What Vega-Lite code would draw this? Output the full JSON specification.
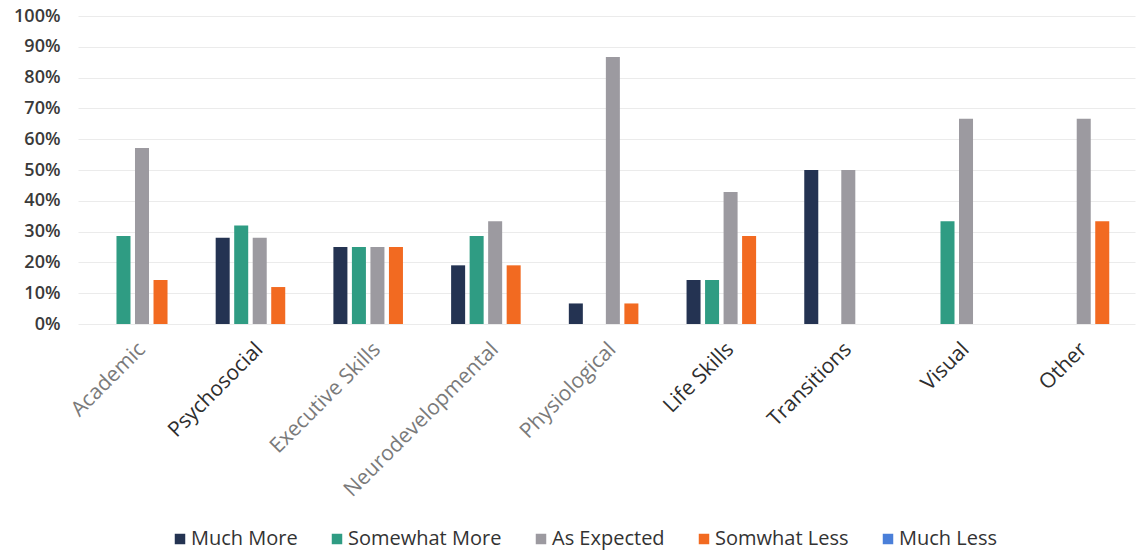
{
  "$schema": "https://vega.github.io/schema/vega-lite/v6.json",
  "width": 1057,
  "height": 308,
  "autosize": {"type": "none"},
  "padding": {"left": 78, "top": 16, "right": 2, "bottom": 227},
  "background": "white",
  "config": {
    "view": {"stroke": null},
    "font": "Open Sans"
  },
  "data": {
    "values": [
      {"area": "Academic", "response": "Somewhat More", "share": 0.2857},
      {"area": "Academic", "response": "As Expected", "share": 0.5714},
      {"area": "Academic", "response": "Somwhat Less", "share": 0.1429},
      {"area": "Psychosocial", "response": "Much More", "share": 0.28},
      {"area": "Psychosocial", "response": "Somewhat More", "share": 0.32},
      {"area": "Psychosocial", "response": "As Expected", "share": 0.28},
      {"area": "Psychosocial", "response": "Somwhat Less", "share": 0.12},
      {"area": "Executive Skills", "response": "Much More", "share": 0.25},
      {"area": "Executive Skills", "response": "Somewhat More", "share": 0.25},
      {"area": "Executive Skills", "response": "As Expected", "share": 0.25},
      {"area": "Executive Skills", "response": "Somwhat Less", "share": 0.25},
      {"area": "Neurodevelopmental", "response": "Much More", "share": 0.1905},
      {"area": "Neurodevelopmental", "response": "Somewhat More", "share": 0.2857},
      {"area": "Neurodevelopmental", "response": "As Expected", "share": 0.3333},
      {"area": "Neurodevelopmental", "response": "Somwhat Less", "share": 0.1905},
      {"area": "Physiological", "response": "Much More", "share": 0.0667},
      {"area": "Physiological", "response": "As Expected", "share": 0.8667},
      {"area": "Physiological", "response": "Somwhat Less", "share": 0.0667},
      {"area": "Life Skills", "response": "Much More", "share": 0.1429},
      {"area": "Life Skills", "response": "Somewhat More", "share": 0.1429},
      {"area": "Life Skills", "response": "As Expected", "share": 0.4286},
      {"area": "Life Skills", "response": "Somwhat Less", "share": 0.2857},
      {"area": "Transitions", "response": "Much More", "share": 0.5},
      {"area": "Transitions", "response": "As Expected", "share": 0.5},
      {"area": "Visual", "response": "Somewhat More", "share": 0.3333},
      {"area": "Visual", "response": "As Expected", "share": 0.6667},
      {"area": "Other", "response": "As Expected", "share": 0.6667},
      {"area": "Other", "response": "Somwhat Less", "share": 0.3333}
    ]
  },
  "mark": {"type": "bar"},
  "encoding": {
    "x": {
      "field": "area",
      "type": "nominal",
      "sort": ["Academic", "Psychosocial", "Executive Skills", "Neurodevelopmental", "Physiological", "Life Skills", "Transitions", "Visual", "Other"],
      "scale": {"paddingInner": 0.214, "paddingOuter": 0.0966, "align": 0.78},
      "axis": {
        "title": null,
        "domain": false,
        "ticks": false,
        "labelAngle": -45,
        "labelAlign": "right",
        "labelBaseline": "middle",
        "labelPadding": 22,
        "labelFontSize": 21,
        "labelFont": "Open Sans",
        "labelLimit": 400,
        "labelColor": {
          "condition": {
            "test": "indexof(['Psychosocial','Life Skills','Transitions','Visual','Other'], datum.value) >= 0",
            "value": "#2e2e2e"
          },
          "value": "#7a7a7a"
        }
      }
    },
    "xOffset": {
      "field": "response",
      "type": "nominal",
      "scale": {
        "domain": ["Much More", "Somewhat More", "As Expected", "Somwhat Less", "Much Less"],
        "paddingInner": 0.243,
        "paddingOuter": 0.12
      }
    },
    "y": {
      "field": "share",
      "type": "quantitative",
      "scale": {"domain": [0, 1]},
      "axis": {
        "title": null,
        "format": ".0%",
        "values": [0, 0.1, 0.2, 0.3, 0.4, 0.5, 0.6, 0.7, 0.8, 0.9, 1],
        "domain": false,
        "ticks": false,
        "labelPadding": 18,
        "labelFontSize": 18,
        "labelFontWeight": 600,
        "labelFont": "Open Sans",
        "labelColor": "#3a3a3a",
        "gridColor": "#ebebeb",
        "gridWidth": 1
      }
    },
    "color": {
      "field": "response",
      "type": "nominal",
      "scale": {
        "domain": ["Much More", "Somewhat More", "As Expected", "Somwhat Less", "Much Less"],
        "range": ["#243352", "#2f9c83", "#9c9aa0", "#f26a21", "#4a7fd9"]
      },
      "legend": {
        "title": null,
        "orient": "none",
        "direction": "horizontal",
        "columns": 5,
        "legendX": 92,
        "legendY": 513,
        "symbolType": "square",
        "symbolSize": 110,
        "symbolStrokeWidth": 0,
        "labelOffset": 1,
        "labelFontSize": 20,
        "labelFont": "Open Sans",
        "labelColor": "#333333",
        "labelLimit": 300,
        "columnPadding": 29
      }
    }
  }
}
